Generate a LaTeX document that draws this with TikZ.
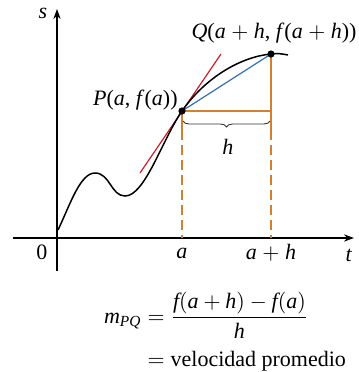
\documentclass[tikz,border=0pt]{standalone}
\usepackage{amsmath}
\usepackage{fontspec}
\setmainfont{Liberation Serif}
\usetikzlibrary{arrows.meta,decorations.pathreplacing}
\definecolor{orng}{RGB}{210,128,48}
\definecolor{tanred}{RGB}{205,30,40}
\definecolor{secblue}{RGB}{50,110,185}
\newcommand{\mi}[1]{\textit{#1}}
\begin{document}
\begin{tikzpicture}[x={(0.5pt,0)},y={(0,-0.5pt)},
  axis/.style={line width=0.6pt,-{Stealth[length=5pt,width=3.6pt]}},
  curve/.style={line width=0.75pt},
  guide/.style={orng,line width=0.6pt},
  guidedash/.style={orng,line width=0.6pt,dash pattern=on 5pt off 2.5pt},
  dot/.style={circle,fill=black,inner sep=0pt,minimum size=3.6pt},
  lbl/.style={inner sep=0pt,font=\fontsize{11}{13}\selectfont}]
\useasboundingbox (0,0) rectangle (359,372);
% axes
\coordinate (xs) at (13,238);
\coordinate (xe) at (354,238);
\coordinate (ys) at (57,271);
\coordinate (ye) at (57,9);
\draw[axis] (xs) -- (xe);
\draw[axis] (ys) -- (ye);
\node[lbl] (s) at (43,13) {\mi{s}};
\node[lbl] (t) at (349,255) {\mi{t}};
\node[lbl] (zero) at (42,252) {0};
% points
\coordinate (P) at (182,111);
\coordinate (Q) at (271,54);
\coordinate (R) at (271,111);
\coordinate (Pb) at (182,130);
\coordinate (Qb) at (271,130);
\coordinate (Pa) at (182,238);
\coordinate (Qa) at (271,238);
% guides
\draw[guide] (P) -- (R) -- (Q);
\draw[guide] (P) -- (Pb);
\draw[guide] (R) -- (Qb);
\draw[guidedash] (Pb) -- (Pa);
\draw[guidedash] (Qb) -- (Qa);
% brace
\coordinate (bl) at (183,121);
\coordinate (br) at (270,121);
\draw[line width=0.45pt,black!80,decorate,decoration={brace,mirror,amplitude=3pt}] (bl) -- (br);
\node[lbl] (h) at (228,147) {\mi{h}};
% tangent and secant
\coordinate (T1) at (140,173);
\coordinate (T2) at (221,54);
\draw[tanred,line width=0.6pt] (T1) -- (T2);
\draw[secblue,line width=0.6pt] (P) -- (Q);
% curve
\coordinate (C0) at (58,230);
\coordinate (Cmax) at (95,173);
\coordinate (Cmin) at (125,196);
\coordinate (Cend) at (288,55);
\draw[curve] (C0) .. controls (70,205) and (80,173) .. (Cmax)
  .. controls (110,173) and (111,196) .. (Cmin)
  .. controls (145,196) and (162,140) .. (P)
  .. controls (205,78) and (240,57) .. (Q)
  .. controls (278,53) and (283,54) .. (Cend);
\node[dot] (Pd) at (P) {};
\node[dot] (Qd) at (Q) {};
% labels
\node[lbl,anchor=east] (Pl) at (178,100) {\mi{P}(\mi{a}, \mi{f}(\mi{a}))};
\node[lbl] (Ql) at (274,33) {\mi{Q}(\mi{a} $+$ \mi{h}, \mi{f}(\mi{a} $+$ \mi{h}))};
\node[lbl] (al) at (182,253) {\mi{a}};
\node[lbl] (ahl) at (271,253) {\mi{a} $+$ \mi{h}};
% formula
\node[lbl] (F) at (225,333) {$\begin{aligned} \mi{m}_{\mi{PQ}} &= \frac{\mi{f}(\mi{a}+\mi{h})-\mi{f}(\mi{a})}{\mi{h}}\\[1pt] &= \text{velocidad promedio}\end{aligned}$};
\end{tikzpicture}
\end{document}
